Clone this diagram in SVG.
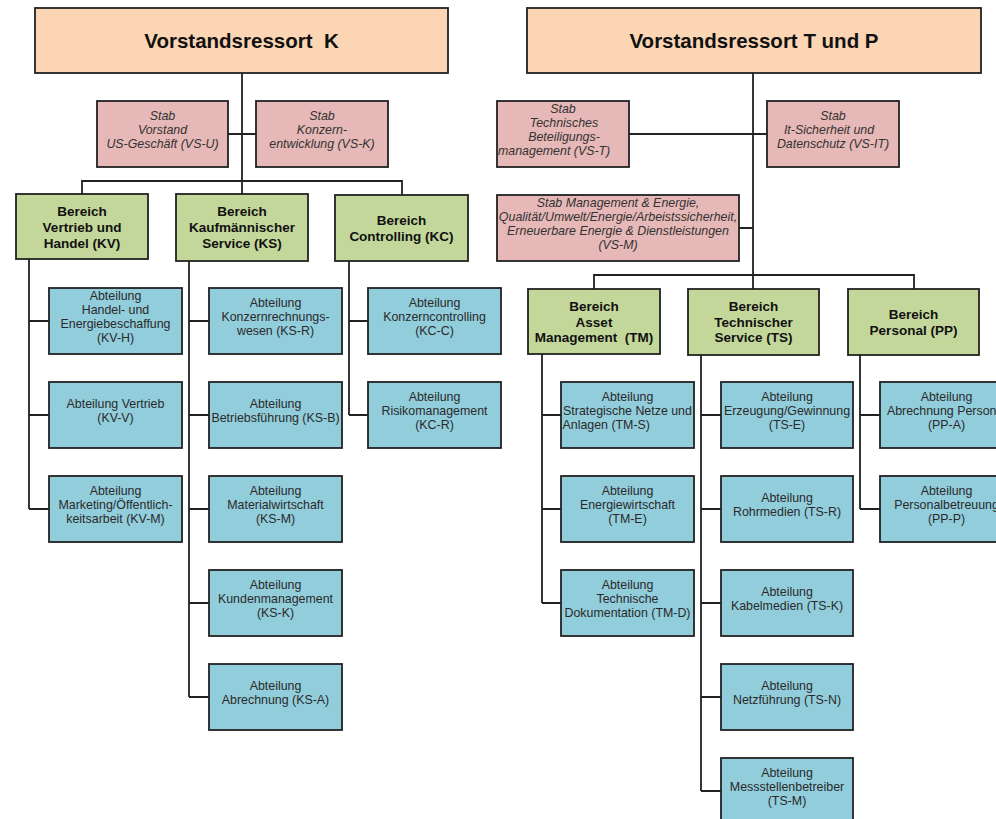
<svg xmlns="http://www.w3.org/2000/svg" width="996" height="819" viewBox="0 0 996 819">
<style>
rect{stroke:#222;stroke-width:1.8}
.top rect{fill:#FCD5B4}
.stab rect{fill:#E6B8B7}
.ber rect{fill:#C4D79B}
.abt rect{fill:#92CDDC}
text{font-family:"Liberation Sans",Arial,sans-serif;text-anchor:middle}
.top text{font-size:20.5px;font-weight:bold;fill:#111}
.stab text{font-size:12.4px;font-style:italic;fill:#333}
.ber text{font-size:13.5px;font-weight:bold;fill:#111}
.abt text{font-size:12.4px;fill:#2a2a2a}
#connectors path{fill:none;stroke:#222;stroke-width:1.8}
</style>
<rect x="0" y="0" width="996" height="819" fill="#fff" style="stroke:none"/>
<g id="connectors">
<path d="M242,73V194M82,194V181H402V195M228,134H256"/>
<path d="M753,73V289M594,289V275H914V289M629,134H767M739,228H753"/>
<path d="M29,259V509M29,321H49M29,415H49M29,509H49"/>
<path d="M189,261V697M189,321H209M189,415H209M189,509H209M189,603H209M189,697H209"/>
<path d="M349,261V415M349,321H368M349,415H368"/>
<path d="M542,354V603M542,415H561M542,509H561M542,603H561"/>
<path d="M701,355V791M701,415H721M701,509H721M701,603H721M701,697H721M701,791H721"/>
<path d="M860,355V509M860,415H880M860,509H880"/>
</g>
<g id="vorstand-k" class="top" transform="translate(35,8)"><rect width="413" height="65"/><text x="206.5" y="40">Vorstandsressort&#160;&#160;K</text></g>
<g id="vorstand-tp" class="top" transform="translate(527,8)"><rect width="454" height="65"/><text x="227" y="40">Vorstandsressort T und P</text></g>
<g id="vs-u" class="stab" transform="translate(97,101)"><rect width="131" height="66"/><text x="65.5"><tspan x="65.5" y="19.3">Stab</tspan><tspan x="65.5" y="33.3">Vorstand</tspan><tspan x="65.5" y="47.3">US-Geschäft (VS-U)</tspan></text></g>
<g id="vs-k" class="stab" transform="translate(256,101)"><rect width="132" height="66"/><text><tspan x="66" y="19.3">Stab</tspan><tspan x="66" y="33.3">Konzern-</tspan><tspan x="66" y="47.3">entwicklung (VS-K)</tspan></text></g>
<g id="vs-t" class="stab" transform="translate(497,101)"><rect width="132" height="66"/><text><tspan x="66" y="12.3">Stab</tspan><tspan x="67" y="26.3">Technisches</tspan><tspan x="67" y="40.3">Beteiligungs-</tspan><tspan x="1" y="54.3" text-anchor="start">management (VS-T)</tspan></text></g>
<g id="vs-it" class="stab" transform="translate(767,101)"><rect width="132" height="66"/><text><tspan x="66" y="19.3">Stab</tspan><tspan x="62" y="33.3">It-Sicherheit und</tspan><tspan x="66" y="47.3">Datenschutz (VS-IT)</tspan></text></g>
<g id="vs-m" class="stab" transform="translate(497,195)"><rect width="242" height="66"/><text><tspan x="121" y="12.3">Stab Management &amp; Energie,</tspan><tspan x="121" y="26.3">Qualität/Umwelt/Energie/Arbeistssicherheit,</tspan><tspan x="121" y="40.3">Erneuerbare Energie &amp; Dienstleistungen</tspan><tspan x="121" y="54.3">(VS-M)</tspan></text></g>
<g id="kv" class="ber" transform="translate(16,194)"><rect width="132" height="65"/><text><tspan x="66" y="21.7">Bereich</tspan><tspan x="66" y="37.7">Vertrieb und</tspan><tspan x="66" y="53.7">Handel (KV)</tspan></text></g>
<g id="ks" class="ber" transform="translate(176,194)"><rect width="132" height="67"/><text><tspan x="66" y="22.2">Bereich</tspan><tspan x="66" y="38.2">Kaufmännischer</tspan><tspan x="66" y="54.2">Service (KS)</tspan></text></g>
<g id="kc" class="ber" transform="translate(335,195)"><rect width="133" height="66"/><text><tspan x="66.5" y="29.7">Bereich</tspan><tspan x="66.5" y="45.7">Controlling (KC)</tspan></text></g>
<g id="tm" class="ber" transform="translate(528,289)"><rect width="132" height="65"/><text><tspan x="66" y="22.2">Bereich</tspan><tspan x="66" y="37.7">Asset</tspan><tspan x="66" y="53.2">Management&#160;&#160;(TM)</tspan></text></g>
<g id="ts" class="ber" transform="translate(688,289)"><rect width="131" height="66"/><text><tspan x="65.5" y="22.2">Bereich</tspan><tspan x="65.5" y="37.7">Technischer</tspan><tspan x="65.5" y="53.2">Service (TS)</tspan></text></g>
<g id="pp" class="ber" transform="translate(848,289)"><rect width="131" height="66"/><text><tspan x="65.5" y="29.7">Bereich</tspan><tspan x="65.5" y="45.7">Personal (PP)</tspan></text></g>
<g id="kv-h" class="abt" transform="translate(49,288)"><rect width="133" height="66"/><text><tspan x="66.5" y="12.3">Abteilung</tspan><tspan x="66.5" y="26.3">Handel- und</tspan><tspan x="66.5" y="40.3">Energiebeschaffung</tspan><tspan x="66.5" y="54.3">(KV-H)</tspan></text></g>
<g id="ks-r" class="abt" transform="translate(209,288)"><rect width="133" height="66"/><text><tspan x="66.5" y="19.3">Abteilung</tspan><tspan x="66.5" y="33.3">Konzernrechnungs-</tspan><tspan x="66.5" y="47.3">wesen (KS-R)</tspan></text></g>
<g id="kc-c" class="abt" transform="translate(368,288)"><rect width="133" height="66"/><text><tspan x="66.5" y="19.3">Abteilung</tspan><tspan x="66.5" y="33.3">Konzerncontrolling</tspan><tspan x="66.5" y="47.3">(KC-C)</tspan></text></g>
<g id="kv-v" class="abt" transform="translate(49,382)"><rect width="133" height="66"/><text><tspan x="66.5" y="26.3">Abteilung Vertrieb</tspan><tspan x="66.5" y="40.3">(KV-V)</tspan></text></g>
<g id="ks-b" class="abt" transform="translate(209,382)"><rect width="133" height="66"/><text><tspan x="66.5" y="26.3">Abteilung</tspan><tspan x="66.5" y="40.3">Betriebsführung (KS-B)</tspan></text></g>
<g id="kc-r" class="abt" transform="translate(368,382)"><rect width="133" height="66"/><text><tspan x="66.5" y="19.3">Abteilung</tspan><tspan x="66.5" y="33.3">Risikomanagement</tspan><tspan x="66.5" y="47.3">(KC-R)</tspan></text></g>
<g id="kv-m" class="abt" transform="translate(49,476)"><rect width="133" height="66"/><text><tspan x="66.5" y="19.3">Abteilung</tspan><tspan x="66.5" y="33.3">Marketing/Öffentlich-</tspan><tspan x="66.5" y="47.3">keitsarbeit (KV-M)</tspan></text></g>
<g id="ks-m" class="abt" transform="translate(209,476)"><rect width="133" height="66"/><text><tspan x="66.5" y="19.3">Abteilung</tspan><tspan x="66.5" y="33.3">Materialwirtschaft</tspan><tspan x="66.5" y="47.3">(KS-M)</tspan></text></g>
<g id="ks-k" class="abt" transform="translate(209,570)"><rect width="133" height="66"/><text><tspan x="66.5" y="19.3">Abteilung</tspan><tspan x="66.5" y="33.3">Kundenmanagement</tspan><tspan x="66.5" y="47.3">(KS-K)</tspan></text></g>
<g id="ks-a" class="abt" transform="translate(209,664)"><rect width="133" height="66"/><text><tspan x="66.5" y="26.3">Abteilung</tspan><tspan x="66.5" y="40.3">Abrechnung (KS-A)</tspan></text></g>
<g id="tm-s" class="abt" transform="translate(561,382)"><rect width="133" height="66"/><text><tspan x="66.5" y="19.3">Abteilung</tspan><tspan x="66.5" y="33.3">Strategische Netze und</tspan><tspan x="1.5" y="47.3" text-anchor="start">Anlagen (TM-S)</tspan></text></g>
<g id="ts-e" class="abt" transform="translate(721,382)"><rect width="132" height="66"/><text><tspan x="66" y="19.3">Abteilung</tspan><tspan x="66" y="33.3">Erzeugung/Gewinnung</tspan><tspan x="66" y="47.3">(TS-E)</tspan></text></g>
<g id="pp-a" class="abt" transform="translate(880,382)"><rect width="133" height="66"/><text><tspan x="66.5" y="19.3">Abteilung</tspan><tspan x="66.5" y="33.3">Abrechnung Personal</tspan><tspan x="66.5" y="47.3">(PP-A)</tspan></text></g>
<g id="tm-e" class="abt" transform="translate(561,476)"><rect width="133" height="66"/><text><tspan x="66.5" y="19.3">Abteilung</tspan><tspan x="66.5" y="33.3">Energiewirtschaft</tspan><tspan x="66.5" y="47.3">(TM-E)</tspan></text></g>
<g id="ts-r" class="abt" transform="translate(721,476)"><rect width="132" height="66"/><text><tspan x="66" y="26.3">Abteilung</tspan><tspan x="66" y="40.3">Rohrmedien (TS-R)</tspan></text></g>
<g id="pp-p" class="abt" transform="translate(880,476)"><rect width="133" height="66"/><text><tspan x="66.5" y="19.3">Abteilung</tspan><tspan x="66.5" y="33.3">Personalbetreuung</tspan><tspan x="66.5" y="47.3">(PP-P)</tspan></text></g>
<g id="tm-d" class="abt" transform="translate(561,570)"><rect width="133" height="66"/><text><tspan x="66.5" y="19.3">Abteilung</tspan><tspan x="66.5" y="33.3">Technische</tspan><tspan x="66.5" y="47.3">Dokumentation (TM-D)</tspan></text></g>
<g id="ts-k" class="abt" transform="translate(721,570)"><rect width="132" height="66"/><text><tspan x="66" y="26.3">Abteilung</tspan><tspan x="66" y="40.3">Kabelmedien (TS-K)</tspan></text></g>
<g id="ts-n" class="abt" transform="translate(721,664)"><rect width="132" height="66"/><text><tspan x="66" y="26.3">Abteilung</tspan><tspan x="66" y="40.3">Netzführung (TS-N)</tspan></text></g>
<g id="ts-m" class="abt" transform="translate(721,758)"><rect width="132" height="66"/><text><tspan x="66" y="19.3">Abteilung</tspan><tspan x="66" y="33.3">Messstellenbetreiber</tspan><tspan x="66" y="47.3">(TS-M)</tspan></text></g>
</svg>
